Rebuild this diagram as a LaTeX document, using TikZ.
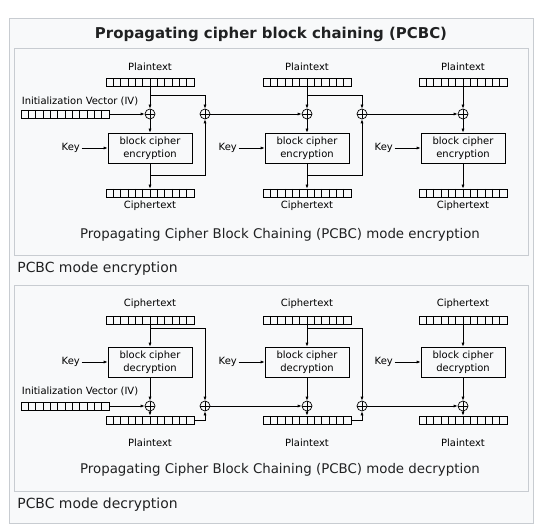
\documentclass[tikz,border=0pt]{standalone}
\usepackage{fontspec}
\setmainfont{DejaVu Sans}
\definecolor{framegray}{RGB}{200, 204, 209}
\definecolor{panelbg}{RGB}{248, 249, 250}
\definecolor{textdark}{RGB}{32, 33, 34}
\usetikzlibrary{arrows.meta, positioning, calc}

\tikzset{
  lbl/.style={font=\fontsize{10}{12}\selectfont, inner sep=1.5bp},
  reg/.style={draw, minimum width=88bp, minimum height=8bp, inner sep=0pt, path picture={
    \foreach \k in {1,...,11}
      \draw ($(path picture bounding box.north west)!\k/12!(path picture bounding box.north east)$) -- ($(path picture bounding box.south west)!\k/12!(path picture bounding box.south east)$);}},
  xorop/.style={draw, circle, minimum size=10bp, inner sep=0pt, path picture={
    \draw (path picture bounding box.north) -- (path picture bounding box.south)
          (path picture bounding box.west) -- (path picture bounding box.east);}},
  cipherbox/.style={draw, minimum width=84bp, minimum height=30bp, align=center, font=\fontsize{10}{13}\selectfont},
  arr/.style={-{Latex[length=4bp, width=3bp]}},
}

\begin{document}
\begin{tikzpicture}[x=1bp, y=-1bp, line width=0.7bp]
  \useasboundingbox[fill=white] (0,0) rectangle (545,531);

  % Frame
  \draw[framegray, line width=1bp, fill=panelbg] (9,19) rectangle (533,523);
  \draw[framegray, line width=1bp] (14,49) rectangle (528,255);
  \draw[framegray, line width=1bp] (14,285) rectangle (528,491);
  \node[font=\bfseries\fontsize{15}{18}\selectfont, text=textdark] (title) at (271,34) {Propagating cipher block chaining (PCBC)};

  % Encryption, first block
  \node[lbl] (pt1) at (150,67) {Plaintext};
  \node[reg] (ptr1) at (150,82.5) {};
  \node[lbl] (ivt) at (80,101) {Initialization Vector (IV)};
  \node[reg] (ivr) at (65,114) {};
  \node[xorop] (xa1) at (150,114) {};
  \node[xorop] (xb1) at (205,114) {};
  \node[cipherbox] (enc1) at (150,148) {block cipher\\encryption};
  \node[lbl, left=26bp of enc1] (key1) {Key};
  \node[reg] (ctr1) at (150,193) {};
  \node[lbl] (ct1) at (150,206) {Ciphertext};
  \coordinate (pb1) at (150,95);
  \coordinate (cb1) at (150,175);
  \draw[arr] (ptr1) -- (xa1);
  \draw[arr] (pb1) -| (xb1);
  \draw[arr] (ivr) -- (xa1);
  \draw[arr] (xa1) -- (enc1);
  \draw[arr] (key1) -- (enc1);
  \draw[arr] (enc1) -- (ctr1);
  \draw[arr] (cb1) -| (xb1);

  % Encryption, second block
  \node[lbl] (pt2) at (307,67) {Plaintext};
  \node[reg] (ptr2) at (307,82.5) {};
  \node[xorop] (xa2) at (307,114) {};
  \node[xorop] (xb2) at (362,114) {};
  \node[cipherbox] (enc2) at (307,148) {block cipher\\encryption};
  \node[lbl, left=26bp of enc2] (key2) {Key};
  \node[reg] (ctr2) at (307,193) {};
  \node[lbl] (ct2) at (307,206) {Ciphertext};
  \coordinate (pb2) at (307,95);
  \coordinate (cb2) at (307,175);
  \draw[arr] (xb1) -- (xa2);
  \draw[arr] (ptr2) -- (xa2);
  \draw[arr] (pb2) -| (xb2);
  \draw[arr] (xa2) -- (enc2);
  \draw[arr] (key2) -- (enc2);
  \draw[arr] (enc2) -- (ctr2);
  \draw[arr] (cb2) -| (xb2);

  % Encryption, third block
  \node[lbl] (pt3) at (463,67) {Plaintext};
  \node[reg] (ptr3) at (463,82.5) {};
  \node[xorop] (xa3) at (463,114) {};
  \node[cipherbox] (enc3) at (463,148) {block cipher\\encryption};
  \node[lbl, left=26bp of enc3] (key3) {Key};
  \node[reg] (ctr3) at (463,193) {};
  \node[lbl] (ct3) at (463,206) {Ciphertext};
  \draw[arr] (xb2) -- (xa3);
  \draw[arr] (ptr3) -- (xa3);
  \draw[arr] (xa3) -- (enc3);
  \draw[arr] (key3) -- (enc3);
  \draw[arr] (enc3) -- (ctr3);

  \node[font=\fontsize{13.4}{16}\selectfont, text=textdark] (enccap) at (280,235) {Propagating Cipher Block Chaining (PCBC) mode encryption};
  \node[font=\fontsize{14}{17}\selectfont, text=textdark, anchor=west, inner sep=0pt] (encnote) at (17,269) {PCBC mode encryption};

  % Decryption, first block
  \node[lbl] (dct1) at (150,304) {Ciphertext};
  \node[reg] (dctr1) at (150,320) {};
  \node[cipherbox] (dec1) at (150,362) {block cipher\\decryption};
  \node[lbl, left=26bp of dec1] (dkey1) {Key};
  \node[lbl] (divt) at (80,391) {Initialization Vector (IV)};
  \node[reg] (divr) at (65,406) {};
  \node[xorop] (ya1) at (150,406) {};
  \node[xorop] (yb1) at (205,406) {};
  \node[reg] (dptr1) at (150,420) {};
  \node[lbl] (dpt1) at (150,443) {Plaintext};
  \coordinate (db1) at (150,328);
  \draw[arr] (dctr1) -- (dec1);
  \draw[arr] (db1) -| (yb1);
  \draw[arr] (dkey1) -- (dec1);
  \draw[arr] (dec1) -- (ya1);
  \draw[arr] (divr) -- (ya1);
  \draw[arr] (ya1) -- (dptr1);
  \draw[arr] (dptr1.east) -| (yb1);

  % Decryption, second block
  \node[lbl] (dct2) at (307,304) {Ciphertext};
  \node[reg] (dctr2) at (307,320) {};
  \node[cipherbox] (dec2) at (307,362) {block cipher\\decryption};
  \node[lbl, left=26bp of dec2] (dkey2) {Key};
  \node[xorop] (ya2) at (307,406) {};
  \node[xorop] (yb2) at (362,406) {};
  \node[reg] (dptr2) at (307,420) {};
  \node[lbl] (dpt2) at (307,443) {Plaintext};
  \coordinate (db2) at (307,328);
  \draw[arr] (yb1) -- (ya2);
  \draw[arr] (dctr2) -- (dec2);
  \draw[arr] (db2) -| (yb2);
  \draw[arr] (dkey2) -- (dec2);
  \draw[arr] (dec2) -- (ya2);
  \draw[arr] (ya2) -- (dptr2);
  \draw[arr] (dptr2.east) -| (yb2);

  % Decryption, third block
  \node[lbl] (dct3) at (463,304) {Ciphertext};
  \node[reg] (dctr3) at (463,320) {};
  \node[cipherbox] (dec3) at (463,362) {block cipher\\decryption};
  \node[lbl, left=26bp of dec3] (dkey3) {Key};
  \node[xorop] (ya3) at (463,406) {};
  \node[reg] (dptr3) at (463,420) {};
  \node[lbl] (dpt3) at (463,443) {Plaintext};
  \draw[arr] (yb2) -- (ya3);
  \draw[arr] (dctr3) -- (dec3);
  \draw[arr] (dkey3) -- (dec3);
  \draw[arr] (dec3) -- (ya3);
  \draw[arr] (ya3) -- (dptr3);

  \node[font=\fontsize{13.4}{16}\selectfont, text=textdark] (deccap) at (280,470) {Propagating Cipher Block Chaining (PCBC) mode decryption};
  \node[font=\fontsize{14}{17}\selectfont, text=textdark, anchor=west, inner sep=0pt] (decnote) at (17,505) {PCBC mode decryption};
\end{tikzpicture}
\end{document}
